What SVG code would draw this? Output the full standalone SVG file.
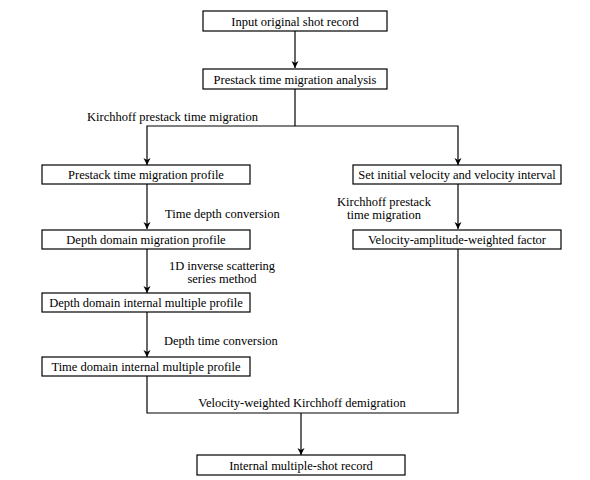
<svg xmlns="http://www.w3.org/2000/svg" width="590" height="480" viewBox="0 0 590 480">
<defs>
<style>
.box{fill:#fff;stroke:#000;stroke-width:1.2}
.t{font-family:"Liberation Serif","Times New Roman",serif;font-size:12.5px;fill:#000;text-anchor:middle}
.l{font-family:"Liberation Serif","Times New Roman",serif;font-size:12.5px;fill:#000}
.c{fill:none;stroke:#000;stroke-width:1.2}
</style>
<marker id="ah" markerWidth="8" markerHeight="10" refX="7" refY="5" orient="auto" markerUnits="userSpaceOnUse">
<path d="M0,1.5 L7,5 L0,8.5 L2,5 Z" fill="#000"/>
</marker>
</defs>
<rect width="590" height="480" fill="#fff"/>
<g id="connectors">
<line class="c" x1="295" y1="31" x2="295" y2="68" marker-end="url(#ah)"/>
<line class="c" x1="295" y1="89" x2="295" y2="126"/>
<polyline class="c" points="295,126 458,126 458,165" marker-end="url(#ah)"/>
<polyline class="c" points="295,126 147,126 147,165" marker-end="url(#ah)"/>
<line class="c" x1="147" y1="184" x2="147" y2="229" marker-end="url(#ah)"/>
<line class="c" x1="458" y1="184" x2="458" y2="229" marker-end="url(#ah)"/>
<line class="c" x1="147" y1="249" x2="147" y2="293" marker-end="url(#ah)"/>
<line class="c" x1="147" y1="312" x2="147" y2="357" marker-end="url(#ah)"/>
<polyline class="c" points="147,376 147,413 458,413 458,249"/>
<line class="c" x1="301" y1="413" x2="301" y2="455" marker-end="url(#ah)"/>
</g>
<g id="labels">
<text class="l" x="87" y="121">Kirchhoff prestack time migration</text>
<text class="l" x="165" y="218">Time depth conversion</text>
<text class="t" x="384" y="206">Kirchhoff prestack</text>
<text class="t" x="384" y="219">time migration</text>
<text class="t" x="222" y="270">1D inverse scattering</text>
<text class="t" x="222" y="283">series method</text>
<text class="l" x="164" y="345">Depth time conversion</text>
<text class="t" x="302" y="407">Velocity-weighted Kirchhoff demigration</text>
</g>
<g id="n1"><rect class="box" x="203" y="11" width="184" height="20"/><text class="t" x="295" y="25.5">Input original shot record</text></g>
<g id="n2"><rect class="box" x="203" y="69" width="184" height="20"/><text class="t" x="295" y="83.5">Prestack time migration analysis</text></g>
<g id="n3"><rect class="box" x="42" y="165" width="208" height="19"/><text class="t" x="146" y="179">Prestack time migration profile</text></g>
<g id="n4"><rect class="box" x="353" y="165" width="208" height="19"/><text class="t" x="457" y="179">Set initial velocity and velocity interval</text></g>
<g id="n5"><rect class="box" x="42" y="230" width="208" height="19"/><text class="t" x="146" y="244">Depth domain migration profile</text></g>
<g id="n6"><rect class="box" x="353" y="230" width="208" height="19"/><text class="t" x="457" y="244">Velocity-amplitude-weighted factor</text></g>
<g id="n7"><rect class="box" x="42" y="293" width="208" height="19"/><text class="t" x="146" y="307">Depth domain internal multiple profile</text></g>
<g id="n8"><rect class="box" x="42" y="357" width="208" height="19"/><text class="t" x="146" y="371">Time domain internal multiple profile</text></g>
<g id="n9"><rect class="box" x="197" y="455" width="208" height="20"/><text class="t" x="301" y="469.5">Internal multiple-shot record</text></g>
</svg>
